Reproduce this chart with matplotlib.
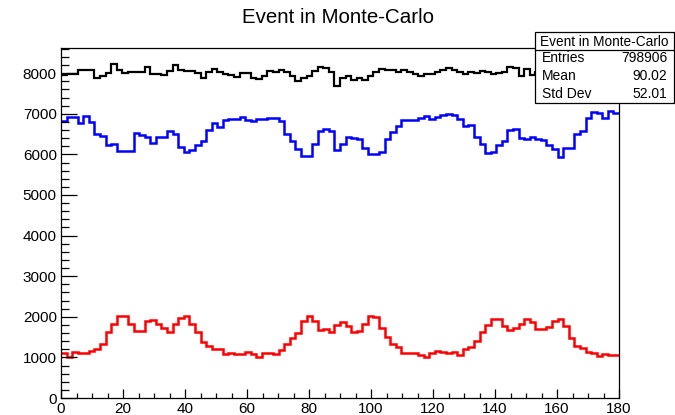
import numpy as np
import matplotlib
matplotlib.use("Agg")
import matplotlib.pyplot as plt
from matplotlib.patches import Rectangle
from matplotlib.lines import Line2D
from matplotlib.ticker import MultipleLocator

plt.rcParams['font.family'] = ['Liberation Sans', 'DejaVu Sans']

# histogram binning: 100 bins over 0..180
nbins = 100
xlo, xhi = 0, 180

# bin contents, read bin by bin
red = [1100, 1020, 1125, 1120, 1120, 1160, 1210, 1320, 1630, 1830,
       2015, 2015, 1830, 1640, 1640, 1900, 1915, 1830, 1720, 1630,
       1830, 1975, 2030, 1830, 1630, 1390, 1280, 1200, 1200, 1085,
       1100, 1075, 1075, 1125, 1085, 1020, 1120, 1120, 1085, 1180,
       1320, 1490, 1600, 1890, 2030, 1890, 1680, 1700, 1630, 1790,
       1880, 1780, 1620, 1640, 1830, 2015, 2000, 1730, 1500, 1330,
       1250, 1120, 1120, 1120, 1050, 1017, 1100, 1160, 1125, 1100,
       1125, 1067, 1200, 1250, 1400, 1625, 1810, 1935, 1935, 1770,
       1680, 1720, 1830, 1935, 1870, 1690, 1690, 1750, 1900, 1935,
       1780, 1490, 1270, 1220, 1130, 1100, 1040, 1080, 1070, 1070]

blue = [6827, 6926, 6926, 6777, 6943, 6802, 6513, 6447, 6224, 6265,
        6084, 6084, 6084, 6538, 6488, 6431, 6290, 6431, 6431, 6579,
        6513, 6183, 6059, 6117, 6224, 6331, 6596, 6761, 6678, 6843,
        6860, 6860, 6910, 6843, 6819, 6860, 6868, 6885, 6885, 6827,
        6513, 6323, 6142, 5960, 5960, 6249, 6579, 6620, 6571, 6100,
        6265, 6431, 6406, 6389, 6158, 6018, 6018, 6059, 6389, 6554,
        6695, 6843, 6843, 6843, 6901, 6951, 6868, 6926, 6967, 7001,
        6967, 6868, 6703, 6720, 6431, 6265, 6042, 6059, 6240, 6323,
        6596, 6637, 6406, 6373, 6431, 6389, 6348, 6240, 6125, 5935,
        6158, 6158, 6513, 6571, 6885, 7034, 7009, 6885, 7067, 7009]

black = [7960, 7985, 7975, 8075, 8090, 8075, 7890, 7920, 8000, 8225,
         8075, 8000, 8025, 8025, 8025, 8140, 7990, 7990, 7960, 8065,
         8190, 8080, 8060, 8060, 8000, 7890, 8025, 8110, 8025, 7975,
         7960, 7900, 8000, 8010, 7890, 7860, 7925, 8060, 8025, 8080,
         8040, 7940, 7795, 7875, 7940, 8060, 8140, 8125, 8040, 7685,
         7890, 7940, 7835, 7890, 7835, 7940, 8040, 8110, 8075, 8075,
         8025, 8075, 8025, 7975, 7940, 7975, 7975, 8025, 8075, 8125,
         8075, 8040, 7975, 8025, 8000, 8060, 8025, 7975, 8000, 8040,
         8155, 8125, 7940, 8110, 7960, 8020, 7980, 8050, 7990, 8010,
         7960, 8030, 8000, 7970, 8040, 8010, 7990, 8020, 7980, 8000]

hist_title = "Event in Monte-Carlo"
stat_names = ["Entries", "Mean", "Std Dev"]
stat_values = ["798906", "90.02", "52.01"]

edges = np.linspace(xlo, xhi, nbins + 1)

W, H = 675, 415
fig = plt.figure(figsize=(W / 100, H / 100), dpi=100)

# frame in pixels: x 61..619, y 48..398 (from top)
ax = fig.add_axes([61 / W, (H - 398) / H, (619 - 61) / W, (398 - 48) / H])

ax.stairs(black, edges, color='black', lw=1.6, baseline=None)
ax.stairs(blue, edges, color='#0000ff', lw=1.8, baseline=None)
ax.stairs(red, edges, color='#ff0000', lw=1.8, baseline=None)

ax.set_xlim(xlo, xhi)
ax.set_ylim(0, 8620)

ax.xaxis.set_major_locator(MultipleLocator(20))
ax.xaxis.set_minor_locator(MultipleLocator(5))
ax.yaxis.set_major_locator(MultipleLocator(1000))
ax.yaxis.set_minor_locator(MultipleLocator(200))

ax.tick_params(axis='both', which='both', direction='in', top=False, right=False,
               labelsize=11, width=0.9, color='black')
ax.tick_params(axis='y', which='major', length=11.5, pad=3)
ax.tick_params(axis='y', which='minor', length=5.5)
ax.tick_params(axis='x', which='major', length=6.5, pad=3)
ax.tick_params(axis='x', which='minor', length=3.5)
for sp in ax.spines.values():
    sp.set_linewidth(0.9)

fig.text(338 / W, 1 - 17.5 / H, hist_title, ha='center', va='center', fontsize=14.8)

# statistics box
bx0, bx1, by0, by1, bsep = 535, 674, 32, 103, 50
fig.add_artist(Rectangle((bx0 / W, 1 - by1 / H), (bx1 - bx0) / W, (by1 - by0) / H,
                         transform=fig.transFigure, facecolor='white',
                         edgecolor='black', lw=0.9, zorder=10))
fig.add_artist(Line2D([bx0 / W, bx1 / W], [1 - bsep / H, 1 - bsep / H],
                      transform=fig.transFigure, color='black', lw=0.9, zorder=11))
fig.text((bx0 + bx1) / 2 / W, 1 - 41.5 / H, hist_title, ha='center', va='center',
         fontsize=9.8, zorder=12)
row_y = [58.5, 76, 93.5]
for name, val, ry in zip(stat_names, stat_values, row_y):
    fig.text(541.5 / W, 1 - ry / H, name, ha='left', va='center', fontsize=10, zorder=12)
    fig.text(667 / W, 1 - ry / H, val, ha='right', va='center', fontsize=10, zorder=12)

fig.savefig("out.png", dpi=100)
